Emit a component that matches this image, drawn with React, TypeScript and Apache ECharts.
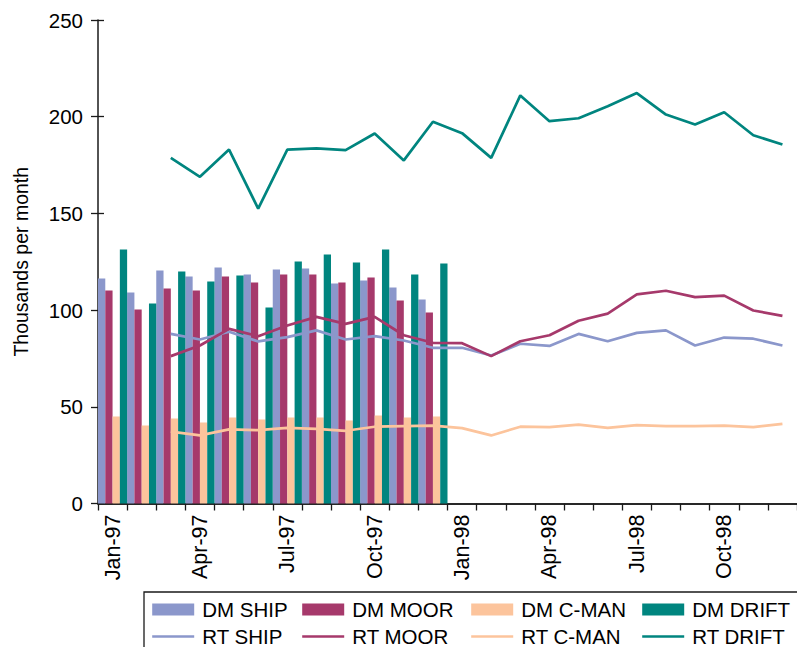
import React, { useEffect, useRef } from "react";
import * as echarts from "echarts";

// Months on the category axis
const months = [
  "Jan-97", "Feb-97", "Mar-97", "Apr-97", "May-97", "Jun-97",
  "Jul-97", "Aug-97", "Sep-97", "Oct-97", "Nov-97", "Dec-97",
  "Jan-98", "Feb-98", "Mar-98", "Apr-98", "May-98", "Jun-98",
  "Jul-98", "Aug-98", "Sep-98", "Oct-98", "Nov-98", "Dec-98",
];

// Delayed-mode counts, Jan-97 .. Dec-97 (thousands per month)
const dmShip = [116.3, 109.1, 120.5, 117.4, 122.0, 118.4, 121.0, 121.5, 113.8, 115.3, 111.7, 105.5];
const dmMoor = [110.1, 100.3, 111.2, 110.1, 117.4, 114.3, 118.4, 118.4, 114.3, 116.9, 105.0, 98.8];
const dmCman = [45.0, 40.3, 43.9, 41.9, 44.5, 43.4, 44.5, 44.5, 42.9, 45.5, 44.5, 45.0];
const dmDrift = [131.3, 103.4, 120.0, 114.8, 117.9, 101.3, 125.1, 128.7, 124.6, 131.3, 118.4, 124.1];

// Real-time counts, Mar-97 .. Dec-98 (thousands per month)
const rtStart = "Mar-97";
const rtShip = [87.7, 84.8, 88.8, 83.8, 86.0, 89.5, 84.8, 86.5, 84.3, 80.5, 80.5, 76.5, 82.6, 81.5, 87.7, 83.9, 88.2, 89.5, 81.7, 85.8, 85.2, 81.7];
const rtMoor = [76.2, 81.7, 90.3, 86.5, 92.0, 96.5, 92.9, 96.5, 87.0, 83.1, 82.9, 76.2, 83.9, 87.0, 94.5, 98.2, 108.1, 110.0, 106.7, 107.5, 99.8, 97.0];
const rtCman = [37.2, 35.2, 38.3, 37.9, 39.1, 38.6, 37.6, 39.7, 40.0, 40.3, 39.0, 35.2, 39.7, 39.5, 40.8, 39.1, 40.5, 40.0, 40.0, 40.3, 39.5, 41.2];
const rtDrift = [178.7, 168.9, 183.0, 152.5, 183.0, 183.6, 182.7, 191.3, 177.4, 197.4, 191.5, 178.7, 211.0, 197.7, 199.2, 205.4, 212.2, 201.1, 196.0, 202.3, 190.4, 185.6];

// Y-axis ticks
const yTicks = [0, 50, 100, 150, 200, 250];

const COLORS = {
  ship: "#8b97cb",
  moor: "#a6396b",
  cman: "#fcc49c",
  drift: "#00857f",
};

const FONT = "'Liberation Sans', Arial, Helvetica, sans-serif";
const AXIS_COLOR = "#1a1a1a";

function padFrom(start: string, values: number[]) {
  const offset = months.indexOf(start);
  const out: (number | string)[] = [];
  for (let i = 0; i < offset; i++) out.push("-");
  return out.concat(values);
}

function buildOption(): echarts.EChartsOption {
  const barBase = {
    type: "bar" as const,
    xAxisIndex: 0,
    yAxisIndex: 0,
    barGap: "0%",
    barCategoryGap: "0%",
    z: 2,
  };
  const lineBase = {
    type: "line" as const,
    xAxisIndex: 0,
    yAxisIndex: 0,
    symbol: "none",
    showSymbol: false,
    z: 4,
  };
  const legendCols = [
    { left: 151, names: ["DM SHIP", "RT SHIP"] },
    { left: 301, names: ["DM MOOR", "RT MOOR"] },
    { left: 470, names: ["DM C-MAN", "RT C-MAN"] },
    { left: 641, names: ["DM DRIFT", "RT DRIFT"] },
  ];
  const textStyle = { fontFamily: FONT, fontSize: 20.5, color: "#000" };

  return {
    animation: false,
    backgroundColor: "#ffffff",
    textStyle,
    grid: { left: 98, top: 20, width: 708, height: 483.5, containLabel: false },
    xAxis: [
      {
        type: "category",
        data: months,
        position: "bottom",
        boundaryGap: true,
        axisLine: { show: true, lineStyle: { color: AXIS_COLOR, width: 1.5 } },
        axisTick: { show: true, interval: 0, length: 7, lineStyle: { color: AXIS_COLOR, width: 1.3 } },
        axisLabel: { interval: 2, rotate: 90, margin: 11, ...textStyle, fontSize: 21.5 },
        splitLine: { show: false },
      },
      {
        type: "category",
        data: months,
        position: "top",
        axisLine: { show: true, lineStyle: { color: AXIS_COLOR, width: 1.5 } },
        axisTick: { show: false },
        axisLabel: { show: false },
        splitLine: { show: false },
      },
    ],
    yAxis: [
      {
        type: "value",
        min: yTicks[0],
        max: yTicks[yTicks.length - 1],
        interval: yTicks[1] - yTicks[0],
        position: "left",
        name: "Thousands per month",
        nameLocation: "middle",
        nameGap: 67,
        nameTextStyle: { ...textStyle, fontSize: 19.5 },
        axisLine: { show: true, lineStyle: { color: AXIS_COLOR, width: 1.5 } },
        axisTick: { show: true, length: 7, lineStyle: { color: AXIS_COLOR, width: 1.3 } },
        axisLabel: { margin: 15, ...textStyle },
        splitLine: { show: false },
      },
      {
        type: "value",
        min: yTicks[0],
        max: yTicks[yTicks.length - 1],
        interval: yTicks[1] - yTicks[0],
        position: "left",
        axisLine: { show: false },
        axisTick: { show: true, inside: true, length: 6, lineStyle: { color: AXIS_COLOR, width: 1.3 } },
        axisLabel: { show: false },
        splitLine: { show: false },
      },
    ],
    legend: legendCols.map((col) => ({
      orient: "vertical",
      left: col.left,
      top: 599,
      height: 120,
      width: 160,
      padding: 0,
      itemWidth: 42,
      itemHeight: 12,
      itemGap: 6,
      selectedMode: false,
      textStyle: { ...textStyle, padding: [0, 0, 0, 3] },
      data: [
        { name: col.names[0], icon: "rect" },
        {
          name: col.names[1],
          itemStyle: { opacity: 0, color: "transparent", borderWidth: 0 },
          lineStyle: { width: 2.4 },
        },
      ],
    })),
    graphic: [
      {
        type: "rect",
        shape: { x: 144, y: 592, width: 700, height: 100 },
        style: { fill: "none", stroke: AXIS_COLOR, lineWidth: 1.3 },
        silent: true,
        z: 0,
      },
    ],
    series: [
      { ...barBase, name: "DM SHIP", data: dmShip, itemStyle: { color: COLORS.ship } },
      { ...barBase, name: "DM MOOR", data: dmMoor, itemStyle: { color: COLORS.moor } },
      { ...barBase, name: "DM C-MAN", data: dmCman, itemStyle: { color: COLORS.cman } },
      { ...barBase, name: "DM DRIFT", data: dmDrift, itemStyle: { color: COLORS.drift } },
      { ...lineBase, name: "RT SHIP", data: padFrom(rtStart, rtShip), itemStyle: { color: COLORS.ship }, lineStyle: { color: COLORS.ship, width: 2.7 } },
      { ...lineBase, name: "RT MOOR", data: padFrom(rtStart, rtMoor), itemStyle: { color: COLORS.moor }, lineStyle: { color: COLORS.moor, width: 2.7 } },
      { ...lineBase, name: "RT C-MAN", data: padFrom(rtStart, rtCman), itemStyle: { color: COLORS.cman }, lineStyle: { color: COLORS.cman, width: 2.7 } },
      { ...lineBase, name: "RT DRIFT", data: padFrom(rtStart, rtDrift), itemStyle: { color: COLORS.drift }, lineStyle: { color: COLORS.drift, width: 2.7 } },
    ],
  } as echarts.EChartsOption;
}

export default function App() {
  const ref = useRef<HTMLDivElement>(null);

  useEffect(() => {
    if (!ref.current) return;
    const chart = echarts.init(ref.current, null, { renderer: "svg" });
    chart.setOption(buildOption());
    return () => chart.dispose();
  }, []);

  return (
    <div
      ref={ref}
      style={{ position: "absolute", left: 0, top: 0, width: 797, height: 647, overflow: "hidden" }}
    />
  );
}
